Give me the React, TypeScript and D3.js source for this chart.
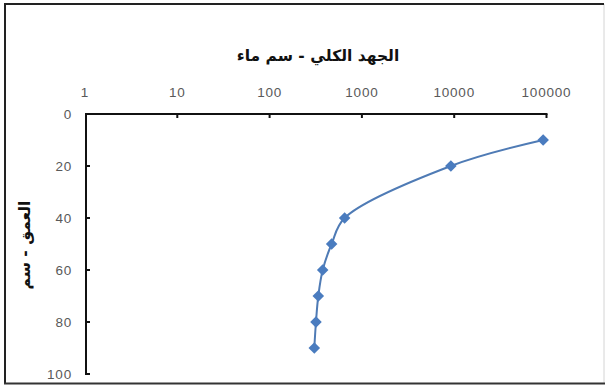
import React from "react";
import * as d3 from "d3";

// Depth below surface (cm) and total head (cm water)
const depths = [10, 20, 40, 50, 60, 70, 80, 90];
const heads = [92000, 9200, 650, 470, 376, 337, 318, 305];
const xTicks = [1, 10, 100, 1000, 10000, 100000];
const yTicks = [0, 20, 40, 60, 80, 100];
const xTitle = "الجهد الكلي  - سم ماء";
const yTitle = "العمق  - سم";

const W = 613;
const H = 387;

export default function App() {
  const x = d3.scaleLog().domain([1, 100000]).range([85, 546.5]);
  const y = d3.scaleLinear().domain([0, 100]).range([114, 374]);
  const pts = depths.map((d, i) => [x(heads[i]), y(d)] as [number, number]);
  const line = d3.line().curve(d3.curveCatmullRom.alpha(0.5))(pts) || "";
  const diamond = d3.symbol().type(d3.symbolDiamond2).size(85)() || "";
  const blue = "#4A7CBF";
  const tickFont = "'Liberation Sans', Arial, sans-serif";

  return (
    <svg
      width={W}
      height={H}
      style={{ position: "absolute", left: 0, top: 0, background: "#fff" }}
    >
      {/* chart frame */}
      <rect x={0} y={0} width={W} height={H} fill="#fff" />
      <line x1={604} y1={4} x2={604} y2={383} stroke="#d4d4d4" strokeWidth={1} />
      <line x1={4} y1={4} x2={604} y2={4} stroke="#222" strokeWidth={2} />
      <line x1={5} y1={3} x2={5} y2={384} stroke="#222" strokeWidth={2} />
      <line x1={4} y1={383.5} x2={605} y2={383.5} stroke="#333" strokeWidth={2} />

      {/* titles */}
      <text
        x={318}
        y={61}
        textAnchor="middle"
        direction="rtl"
        fontFamily="'DejaVu Sans', sans-serif"
        fontWeight="bold"
        fontSize={15.5}
        fill="#111"
      >
        {xTitle}
      </text>
      <text
        transform="translate(30,245) rotate(-90)"
        textAnchor="middle"
        direction="rtl"
        fontFamily="'DejaVu Sans', sans-serif"
        fontWeight="bold"
        fontSize={15.5}
        fill="#111"
      >
        {yTitle}
      </text>

      {/* top x axis */}
      <line x1={x.range()[0]} y1={114} x2={x.range()[1] + 1} y2={114} stroke="#111" strokeWidth={2} />
      {xTicks.map((t) => (
        <g key={"x" + t}>
          {t !== 1 && (
            <line x1={x(t)} y1={114} x2={x(t)} y2={118} stroke="#111" strokeWidth={2} />
          )}
          <text
            x={x(t)}
            y={97}
            textAnchor="middle"
            fontFamily={tickFont}
            fontSize={13.5}
            letterSpacing={0.8}
            fill="#595959"
          >
            {t}
          </text>
        </g>
      ))}

      {/* left y axis */}
      <line x1={86} y1={113} x2={86} y2={375} stroke="#111" strokeWidth={2} />
      {yTicks.map((t) => (
        <g key={"y" + t}>
          {t !== 0 && (
            <line x1={86} y1={y(t)} x2={90} y2={y(t)} stroke="#111" strokeWidth={2} />
          )}
          <text
            x={72}
            y={y(t) + 5}
            textAnchor="end"
            fontFamily={tickFont}
            fontSize={13.5}
            letterSpacing={0.8}
            fill="#595959"
          >
            {t}
          </text>
        </g>
      ))}

      {/* series */}
      <path d={line} fill="none" stroke="#4F7BB5" strokeWidth={2} />
      {pts.map((p, i) => (
        <path key={i} d={diamond} transform={`translate(${p[0]},${p[1]})`} fill={blue} />
      ))}
    </svg>
  );
}
